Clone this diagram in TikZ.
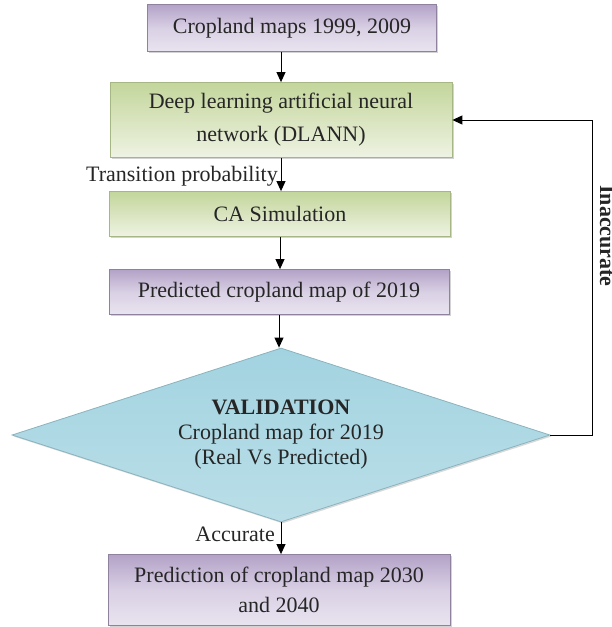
\documentclass[tikz,border=0pt]{standalone}
\usepackage{fontspec}
\setmainfont{Liberation Serif}
\usepackage[HTML]{xcolor}
\usepackage{tikz}
\usetikzlibrary{positioning, arrows.meta, shapes.geometric, shadows}

\definecolor{purpdark}{HTML}{B3A2C7}
\definecolor{purplight}{HTML}{E9E4F0}
\definecolor{greendark}{HTML}{C3D69B}
\definecolor{greenlight}{HTML}{EEF3E3}
\definecolor{bluedark}{HTML}{A2D3E0}
\definecolor{bluelight}{HTML}{DDEFF4}
\definecolor{txtgray}{HTML}{262626}

\begin{document}
\begin{tikzpicture}[x=1pt, y=-1pt,
    font=\fontsize{22}{26}\selectfont,
    every node/.style={text=txtgray},
    purplebox/.style={rectangle, draw=purpdark!80!black, line width=0.8pt,
        top color=purpdark, bottom color=purplight, middle color=purplight!70!purpdark,
        drop shadow={shadow xshift=1.5pt, shadow yshift=-1.5pt, opacity=0.35},
        minimum height=47pt, align=center},
    greenbox/.style={rectangle, draw=greendark!85!black, line width=0.8pt,
        top color=greendark, bottom color=greenlight,
        drop shadow={shadow xshift=1.5pt, shadow yshift=-1.5pt, opacity=0.35},
        minimum height=45pt, align=center},
    flow/.style={-{Triangle[width=9pt, length=10pt]}, line width=0.9pt, black},
    lbl/.style={inner sep=0pt, anchor=east}]

\useasboundingbox (0,0) rectangle (611,627);

% --- Boxes ---
\node[purplebox, minimum width=289pt] (maps) at (292,28) {Cropland maps 1999, 2009};
\node[greenbox, minimum width=342pt, minimum height=75pt,
      font=\fontsize{22}{33}\selectfont] (dlann) at (281,120)
      {Deep learning artificial neural\\network (DLANN)};
\node[greenbox, minimum width=341pt] (ca) at (280,214) {CA Simulation};
\node[purplebox, minimum width=340pt, minimum height=45pt] (pred) at (279,292)
      {Predicted cropland map of 2019};

% --- Validation diamond ---
\node[diamond, aspect=3.1, draw=bluedark!85!black, line width=0.8pt,
      top color=bluedark, middle color=bluelight, bottom color=bluedark!60!bluelight,
      drop shadow={shadow xshift=1.5pt, shadow yshift=-1.5pt, opacity=0.3},
      minimum width=538pt, minimum height=174pt, inner sep=0pt,
      align=center, font=\fontsize{22}{25}\selectfont] (val) at (281,435)
      {\textbf{VALIDATION}\\Cropland map for 2019\\(Real Vs Predicted)};

\node[purplebox, minimum width=342pt, minimum height=71pt,
      font=\fontsize{22}{30}\selectfont] (final) at (279,590)
      {Prediction of cropland map 2030\\and 2040};

% --- Arrows ---
\draw[flow] (maps.south -| dlann.north) -- (dlann.north);
\draw[flow] (dlann.south) -- (dlann.south |- ca.north);
\draw[flow] (ca.south) -- (ca.south |- pred.north);
\draw[flow] (pred.south) -- (pred.south |- val.north);
\draw[flow] (val.south) -- (val.south |- final.north);

% --- Feedback loop ---
\coordinate (turn) at (592,435);
\draw[flow] (val.east) -- (turn) |- (dlann.east);

% --- Labels ---
\node[lbl] (tp) at (278,176) {Transition probability};
\node[lbl] (acc) at (275,534) {Accurate};
\node[rotate=-90, anchor=base, inner sep=0pt, font=\fontsize{22}{26}\selectfont\bfseries] (inacc) at (600,236) {Inaccurate};
\end{tikzpicture}
\end{document}
